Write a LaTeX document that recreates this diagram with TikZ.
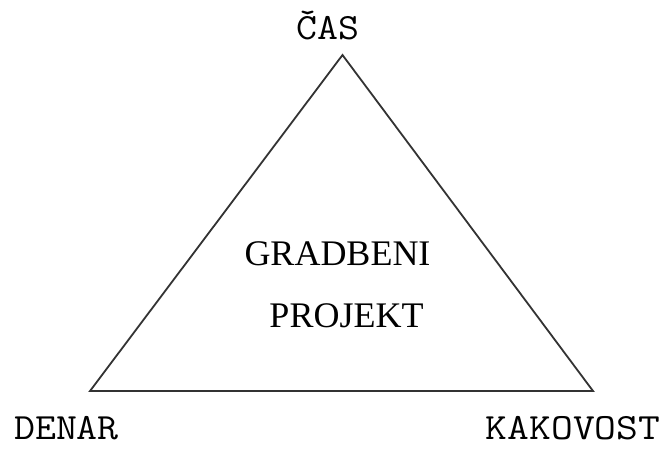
\documentclass[tikz,border=0pt]{standalone}
\usepackage{fontspec}
\setmainfont{Liberation Serif}
\begin{document}
\begin{tikzpicture}[x=1pt,y=1pt,
  corner/.style={inner sep=0pt,anchor=base,xscale=1.1,font=\ttfamily\fontsize{37}{40}\selectfont},
  center/.style={inner sep=0pt,anchor=base,font=\fontsize{36}{40}\selectfont},
  edge/.style={draw=black!80,line width=1.8pt,line join=miter}]
\useasboundingbox (0,0) rectangle (663,448);
\coordinate (A) at (342.5,393);
\coordinate (L) at (90,57);
\coordinate (R) at (593,57);
\draw[edge] (L) -- (R) -- (A) -- cycle;
\node[corner] (cas) at (328,408) {ČAS};
\node[corner] (denar) at (66.5,9) {DENAR};
\node[corner,xscale=1.04] (kak) at (573,9) {KAKOVOST};
\node[center] (grad) at (337.5,183) {GRADBENI};
\node[center] (proj) at (346.5,121) {PROJEKT};
\end{tikzpicture}
\end{document}
